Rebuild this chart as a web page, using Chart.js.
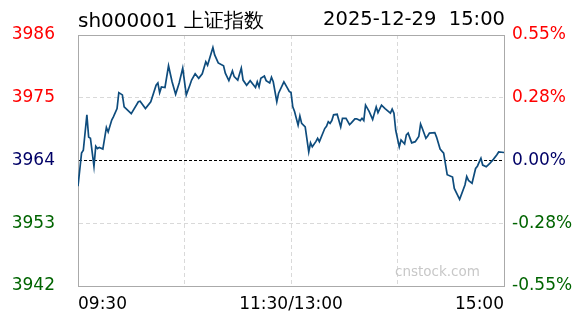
<!DOCTYPE html>
<html>
<head>
<meta charset="utf-8">
<script src="https://cdn.jsdelivr.net/npm/chart.js@4/dist/chart.umd.min.js"></script>
<style>
  html, body { margin: 0; padding: 0; background: #fff; }
  #wrap { position: relative; width: 588px; height: 324px; font-family: "DejaVu Sans", Verdana, sans-serif; }
  #title { position: absolute; left: 78px; top: 7px; font-size: 20px; color: #000; white-space: nowrap; }
  #stamp { position: absolute; right: 83px; top: 7px; font-size: 19.5px; color: #000; white-space: pre; }
  #mark { position: absolute; left: 395px; top: 263px; font-size: 13.5px; color: #c8c8c8; }
</style>
</head>
<body>
<div id="wrap">
  <canvas id="minute" width="588" height="324"></canvas>
  <div id="title">sh000001 上证指数</div>
  <div id="stamp">2025-12-29  15:00</div>
  <div id="mark">cnstock.com</div>
</div>
<script>
// minutes since 09:30 (trading minutes, lunch break skipped) and index level
var minutes = [0, 2, 3, 5, 6, 7, 9, 10, 11, 12, 14, 16, 17, 19, 20, 22, 23, 25, 26, 30,
  34, 35, 38, 41, 44, 45, 46, 47, 49, 51, 53, 55, 57, 59, 61, 63, 64, 66, 68, 70,
  72, 73, 76, 77, 79, 82, 83, 85, 87, 88, 90, 92, 93, 95, 97, 99, 100, 101, 102, 103,
  105, 106, 108, 109, 110, 112, 113, 116, 118, 119, 120, 121, 122, 124, 125, 126, 128, 130, 131, 132,
  134, 135, 136, 139, 140, 141, 142, 143, 144, 146, 148, 149, 151, 153, 154, 156, 157, 159, 160, 161,
  162, 164, 166, 168, 169, 171, 173, 176, 177, 178, 179, 181, 182, 184, 185, 186, 188, 190, 192, 193,
  194, 196, 197, 198, 201, 202, 204, 206, 208, 211, 212, 215, 218, 219, 220, 222, 224, 225, 227, 228,
  230, 232, 234, 236, 237, 240];
var prices = [3959.5, 3965.3, 3965.8, 3972.0, 3968.1, 3967.9, 3963.0, 3966.5, 3966.1, 3966.3, 3966.0, 3969.8, 3969.0, 3971.1, 3971.7, 3973.1, 3975.9, 3975.5, 3973.4, 3972.2,
  3974.3, 3974.4, 3973.1, 3974.3, 3977.2, 3977.6, 3975.9, 3976.9, 3976.8, 3980.6, 3977.8, 3975.6, 3977.6, 3980.2, 3975.5, 3977.2, 3978.1, 3979.2, 3978.4, 3979.2,
  3981.3, 3980.7, 3983.8, 3982.5, 3981.1, 3980.6, 3979.3, 3978.0, 3979.7, 3978.7, 3978.1, 3980.2, 3978.1, 3977.2, 3978.0, 3977.2, 3976.8, 3977.8, 3976.9, 3978.4,
  3978.8, 3978.0, 3977.6, 3978.6, 3977.8, 3974.3, 3975.8, 3977.8, 3976.7, 3976.1, 3975.9, 3973.4, 3972.6, 3970.2, 3971.8, 3970.5, 3969.9, 3965.5, 3967.1, 3966.4,
  3967.3, 3967.9, 3967.3, 3969.6, 3970.0, 3970.8, 3970.5, 3971.0, 3972.0, 3972.1, 3969.9, 3971.4, 3971.4, 3970.3, 3970.6, 3971.3, 3971.3, 3971.0, 3971.4, 3971.0,
  3973.7, 3972.6, 3971.2, 3973.4, 3972.4, 3973.7, 3973.1, 3972.3, 3973.0, 3972.3, 3969.3, 3966.4, 3967.6, 3966.9, 3968.5, 3968.8, 3967.1, 3967.3, 3968.2, 3970.4,
  3969.6, 3967.9, 3968.3, 3968.8, 3968.9, 3968.1, 3966.0, 3965.3, 3961.5, 3961.1, 3959.1, 3957.2, 3959.7, 3961.2, 3960.5, 3960.0, 3962.6, 3963.0, 3964.4, 3963.2,
  3962.9, 3963.5, 3964.2, 3965.0, 3965.5, 3965.4];

var prevClose = 3964;
var priceTicks = [3942, 3953, 3964, 3975, 3986];
var pctLabels = ['-0.55%', '-0.28%', '0.00%', '0.28%', '0.55%'];
var timeTicks = [0, 60, 120, 180, 240];
var timeLabels = ['09:30', '', '11:30/13:00', '', '15:00'];

var UP = '#ff0000', FLAT = '#000066', DOWN = '#006400';
function tickColor(ctx) {
  var v = ctx.tick ? ctx.tick.value : 0;
  if (v > prevClose) return UP;
  if (v < prevClose) return DOWN;
  return FLAT;
}

var points = minutes.map(function(m, i) { return { x: m, y: prices[i] }; });

var minuteChart = new Chart(document.getElementById('minute'), {
  type: 'line',
  data: {
    datasets: [{
      data: points,
      borderColor: '#0e4c7d',
      borderWidth: 1.7,
      pointRadius: 0,
      tension: 0,
      fill: false
    }]
  },
  options: {
    responsive: false,
    animation: false,
    layout: { padding: { top: 35 } },
    plugins: { legend: { display: false }, tooltip: { enabled: false } },
    scales: {
      x: {
        type: 'linear',
        min: 0,
        max: 240,
        afterBuildTicks: function(s) { s.ticks = timeTicks.map(function(v) { return { value: v }; }); },
        afterFit: function(s) { s.height = 38; },
        ticks: {
          autoSkip: false,
          maxRotation: 0,
          align: 'inner',
          padding: 8,
          color: '#000',
          font: { family: 'DejaVu Sans', size: 17 },
          callback: function(v) { return timeLabels[timeTicks.indexOf(v)]; }
        },
        grid: {
          color: function(ctx) { return (ctx.tick && ctx.tick.value === 240) ? '#aaaaaa' : '#d9d9d9'; },
          drawTicks: false
        },
        border: {
          color: '#aaaaaa',
          width: 1,
          dash: function(ctx) { return (ctx.tick && ctx.tick.value === 240) ? [] : [4, 3]; }
        }
      },
      y: {
        position: 'left',
        min: priceTicks[0],
        max: priceTicks[priceTicks.length - 1],
        afterBuildTicks: function(s) { s.ticks = priceTicks.map(function(v) { return { value: v }; }); },
        afterFit: function(s) { s.width = 78; },
        ticks: {
          padding: 23,
          color: tickColor,
          font: { family: 'DejaVu Sans', size: 17 },
          callback: function(v) { return String(v); }
        },
        grid: {
          drawTicks: false,
          color: function(ctx) {
            var v = ctx.tick ? ctx.tick.value : 0;
            if (v === prevClose) return '#000000';
            if (v === priceTicks[priceTicks.length - 1]) return '#aaaaaa';
            return '#d9d9d9';
          }
        },
        border: {
          color: '#aaaaaa',
          width: 1,
          dash: function(ctx) {
            var v = ctx.tick ? ctx.tick.value : 0;
            if (v === prevClose) return [3, 2];
            if (v === priceTicks[priceTicks.length - 1]) return [];
            return [4, 3];
          }
        }
      },
      y2: {
        position: 'right',
        min: priceTicks[0],
        max: priceTicks[priceTicks.length - 1],
        afterBuildTicks: function(s) { s.ticks = priceTicks.map(function(v) { return { value: v }; }); },
        afterFit: function(s) { s.width = 84; },
        ticks: {
          padding: 8,
          color: tickColor,
          font: { family: 'DejaVu Sans', size: 17 },
          callback: function(v) { return pctLabels[priceTicks.indexOf(v)]; }
        },
        grid: { drawOnChartArea: false, drawTicks: false },
        border: { color: '#aaaaaa', width: 1 }
      }
    }
  }
});
</script>
</body>
</html>
